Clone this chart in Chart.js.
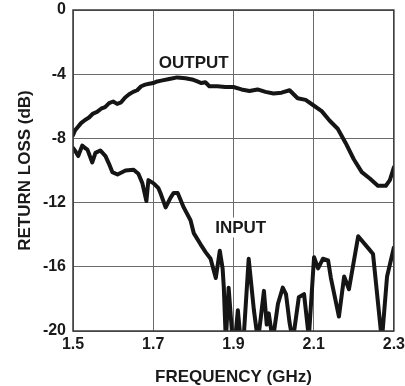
<!DOCTYPE html>
<html>
<head>
<meta charset="utf-8">
<script src="https://cdn.jsdelivr.net/npm/chart.js@4/dist/chart.umd.min.js"></script>
<style>
  html, body { margin: 0; padding: 0; background: #ffffff; }
  #wrap { width: 405px; height: 386px; }
</style>
</head>
<body>
<div id="wrap"><canvas id="returnLossChart" width="405" height="386"></canvas></div>
<script>
// Return loss vs frequency

const xTicks = [1.5, 1.7, 1.9, 2.1, 2.3];
const yTicks = [0, -4, -8, -12, -16, -20];

// OUTPUT curve (GHz, dB)
const outFreq = [1.5, 1.505, 1.51, 1.52, 1.53, 1.54, 1.55, 1.56, 1.57, 1.58, 1.59, 1.6, 1.61, 1.62, 1.63, 1.64, 1.65, 1.66, 1.67, 1.68, 1.69, 1.7, 1.71, 1.72, 1.74, 1.76, 1.78, 1.8, 1.81, 1.82, 1.83, 1.84, 1.86, 1.88, 1.9, 1.92, 1.94, 1.96, 1.98, 2.0, 2.02, 2.04, 2.05, 2.06, 2.08, 2.1, 2.12, 2.14, 2.16, 2.18, 2.2, 2.22, 2.24, 2.26, 2.28, 2.29, 2.3];
const outLoss = [-7.8, -7.5, -7.35, -7.05, -6.85, -6.7, -6.45, -6.35, -6.15, -6.05, -5.8, -5.7, -5.85, -5.75, -5.45, -5.25, -5.1, -5.0, -4.75, -4.65, -4.6, -4.55, -4.45, -4.4, -4.3, -4.2, -4.25, -4.35, -4.45, -4.55, -4.5, -4.75, -4.75, -4.8, -4.8, -4.95, -5.05, -4.95, -5.1, -5.2, -5.15, -5.0, -5.25, -5.5, -5.6, -5.95, -6.3, -6.9, -7.4, -8.3, -9.3, -10.1, -10.5, -10.95, -10.95, -10.6, -9.8];

// INPUT curve (GHz, dB) - dips run past -20 and get clipped at the axis
const inFreq = [1.5, 1.506, 1.513, 1.523, 1.53, 1.536, 1.548, 1.556, 1.568, 1.581, 1.59, 1.598, 1.611, 1.631, 1.651, 1.663, 1.673, 1.683, 1.688, 1.701, 1.713, 1.718, 1.731, 1.743, 1.751, 1.761, 1.776, 1.793, 1.801, 1.818, 1.831, 1.843, 1.856, 1.866, 1.873, 1.876, 1.881, 1.888, 1.898, 1.904, 1.911, 1.918, 1.925, 1.938, 1.951, 1.961, 1.968, 1.976, 1.983, 1.988, 1.998, 2.011, 2.023, 2.031, 2.04, 2.048, 2.063, 2.076, 2.088, 2.101, 2.111, 2.123, 2.136, 2.143, 2.163, 2.176, 2.188, 2.211, 2.238, 2.248, 2.27, 2.283, 2.3];
const inLoss = [-8.6, -8.8, -9.1, -8.45, -8.6, -8.7, -9.5, -8.9, -8.75, -9.1, -9.6, -10.1, -10.25, -10.0, -9.95, -10.2, -10.8, -11.9, -10.6, -10.8, -11.1, -11.4, -12.3, -11.7, -11.4, -11.4, -12.3, -13.1, -13.9, -14.6, -15.1, -15.5, -16.7, -15.0, -16.1, -17.3, -20.6, -17.3, -20.6, -20.6, -18.7, -20.6, -20.6, -15.5, -18.7, -20.6, -19.2, -17.5, -19.6, -18.9, -20.6, -18.3, -17.3, -17.7, -19.5, -20.6, -17.9, -17.7, -20.4, -15.4, -16.1, -15.5, -15.6, -16.7, -19.1, -16.6, -17.4, -14.1, -14.9, -15.2, -20.6, -16.6, -14.8];

// curve labels, in data coordinates
const curveLabels = ["OUTPUT", "INPUT"];
const labelFreq = [1.801, 1.918];
const labelLoss = [-3.25, -13.55];

function toPoints(xs, ys) {
  return xs.map((x, i) => ({ x: x, y: ys[i] }));
}

const FONT = "'Liberation Sans', Arial, Helvetica, sans-serif";
const GRID = "#6b6b6b";

// draws the curve names with a white box behind
const curveLabelPlugin = {
  id: "curveLabels",
  afterDatasetsDraw(chart) {
    const ctx = chart.ctx;
    const xs = chart.scales.x;
    const ys = chart.scales.y;
    ctx.save();
    ctx.font = "bold 17px " + FONT;
    ctx.textAlign = "center";
    ctx.textBaseline = "middle";
    curveLabels.forEach((txt, i) => {
      const px = xs.getPixelForValue(labelFreq[i]);
      const py = ys.getPixelForValue(labelLoss[i]);
      const w = ctx.measureText(txt).width;
      ctx.fillStyle = "#ffffff";
      ctx.fillRect(px - w / 2 - 3, py - 10, w + 6, 20);
      ctx.fillStyle = "#1a1a1a";
      ctx.fillText(txt, px, py + 1);
    });
    ctx.restore();
  },
};

// frame around the plot area
const framePlugin = {
  id: "frame",
  afterDraw(chart) {
    const a = chart.chartArea;
    const ctx = chart.ctx;
    ctx.save();
    ctx.strokeStyle = "#3a3a3a";
    ctx.lineWidth = 1.5;
    ctx.strokeRect(a.left, a.top, a.right - a.left, a.bottom - a.top);
    ctx.restore();
  },
};

const ctx = document.getElementById("returnLossChart").getContext("2d");
const returnLossChart = new Chart(ctx, {
  type: "line",
  data: {
    datasets: [
      {
        label: "OUTPUT",
        data: toPoints(outFreq, outLoss),
        borderColor: "#151515",
        borderWidth: 4,
        pointRadius: 0,
        tension: 0,
        borderJoinStyle: "round",
        borderCapStyle: "round",
        clip: 0,
      },
      {
        label: "INPUT",
        data: toPoints(inFreq, inLoss),
        borderColor: "#151515",
        borderWidth: 4,
        pointRadius: 0,
        tension: 0,
        borderJoinStyle: "round",
        borderCapStyle: "round",
        clip: 0,
      },
    ],
  },
  options: {
    responsive: false,
    maintainAspectRatio: false,
    animation: false,
    layout: {
      padding: { left: 0, right: 0, top: 10, bottom: 0 },
    },
    plugins: {
      legend: { display: false },
      tooltip: { enabled: false },
    },
    scales: {
      x: {
        type: "linear",
        min: 1.5,
        max: 2.3,
        afterBuildTicks: (axis) => {
          axis.ticks = xTicks.map((v) => ({ value: v }));
        },
        afterFit: (axis) => {
          axis.height = 55;
        },
        ticks: {
          callback: (v) => v.toFixed(1),
          color: "#1a1a1a",
          font: { family: FONT, size: 16, weight: "bold" },
          padding: 0,
          maxRotation: 0,
        },
        // invisible tick marks keep the label gap without extra edge padding
        grid: { color: GRID, lineWidth: 1, drawTicks: true, tickLength: 4, tickColor: "rgba(0,0,0,0)" },
        border: { display: false },
        title: {
          display: true,
          text: "FREQUENCY (GHz)",
          color: "#1a1a1a",
          font: { family: FONT, size: 17, weight: "bold", lineHeight: 1.0 },
          padding: { top: 12, bottom: 0 },
        },
      },
      y: {
        type: "linear",
        min: -20,
        max: 0,
        afterBuildTicks: (axis) => {
          axis.ticks = yTicks.map((v) => ({ value: v }));
        },
        afterFit: (axis) => {
          axis.width = 73;
        },
        ticks: {
          callback: (v) => String(v),
          color: "#1a1a1a",
          font: { family: FONT, size: 16, weight: "bold" },
          padding: 0,
        },
        grid: { color: GRID, lineWidth: 1, drawTicks: true, tickLength: 7, tickColor: "rgba(0,0,0,0)" },
        border: { display: false },
        title: {
          display: true,
          text: "RETURN LOSS (dB)",
          color: "#1a1a1a",
          font: { family: FONT, size: 17, weight: "bold" },
          padding: { top: 15, bottom: 0 },
        },
      },
    },
  },
  plugins: [curveLabelPlugin, framePlugin],
});
</script>
</body>
</html>
